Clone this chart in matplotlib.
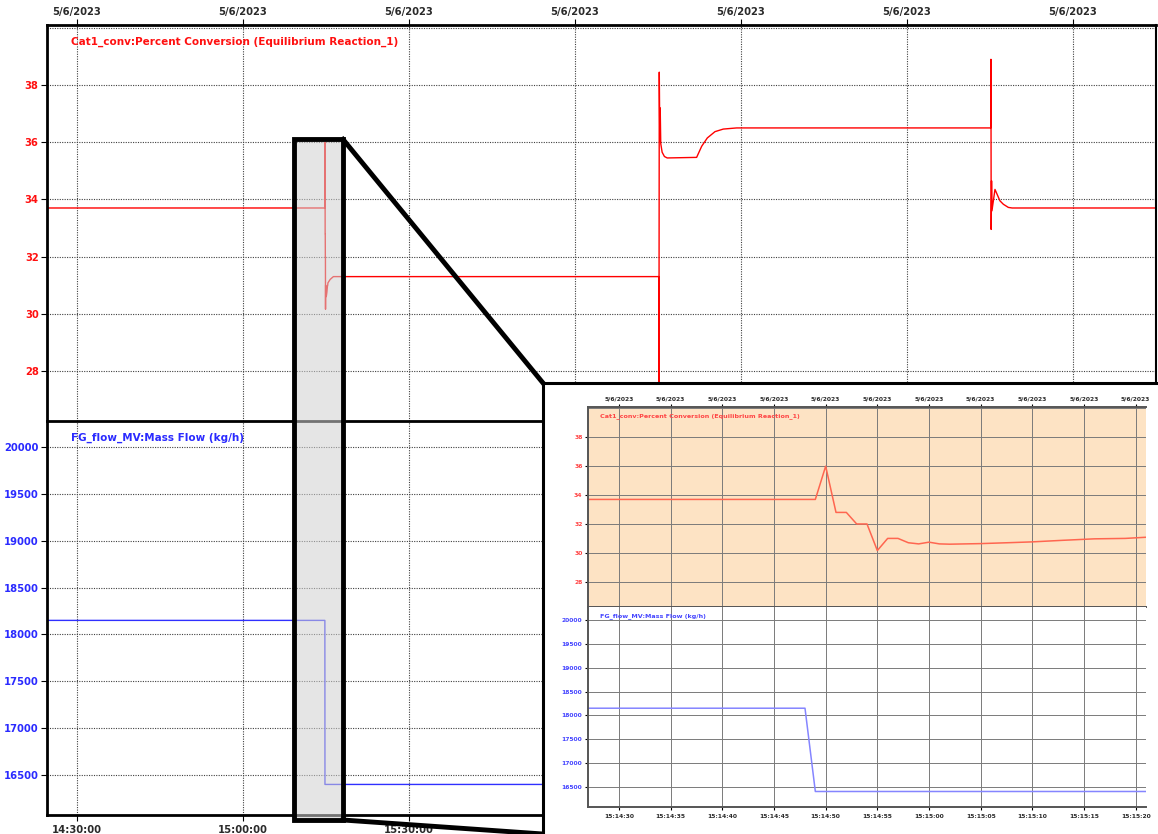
import matplotlib
matplotlib.use("Agg")
import matplotlib.pyplot as plt
import matplotlib.dates as mdates
import matplotlib.ticker as mticker
from matplotlib.patches import Rectangle
from matplotlib.lines import Line2D
import pandas as pd

DAY = "2023-05-06 "

# Cat1_conv:Percent Conversion trend (time, %)
conv_time = [
    "14:20:00", "15:14:49", "15:14:50", "15:14:51", "15:14:52", "15:14:53",
    "15:14:54", "15:14:55", "15:14:56", "15:14:57", "15:14:58", "15:14:59",
    "15:15:00", "15:15:01", "15:15:02", "15:15:05", "15:15:08", "15:15:10",
    "15:15:13", "15:15:16", "15:15:19", "15:15:21", "15:15:45", "15:16:20",
    "16:15:08", "16:15:10", "16:15:14", "16:15:20", "16:15:24", "16:15:30",
    "16:15:45", "16:16:10", "16:16:40", "16:21:59", "16:22:54", "16:23:55",
    "16:25:18", "16:26:48", "16:29:13", "17:15:08", "17:15:10", "17:15:13",
    "17:15:17", "17:15:21", "17:15:54", "17:16:48", "17:17:25", "17:18:19",
    "17:19:00", "17:50:00",
]
conv_value = [
    33.7, 33.7, 36.0, 32.8, 32.8, 32.0,
    32.0, 30.16, 31.0, 31.0, 30.7, 30.62,
    30.74, 30.62, 30.6, 30.64, 30.71, 30.76,
    30.87, 30.97, 31.0, 31.08, 31.2, 31.3,
    31.3, 26.4, 38.45, 36.0, 37.2, 35.95,
    35.65, 35.5, 35.45, 35.47, 35.86, 36.15,
    36.37, 36.46, 36.5, 36.5, 38.9, 32.95,
    34.65, 33.6, 34.35, 33.95, 33.83, 33.72,
    33.7, 33.7,
]

# FG_flow_MV:Mass Flow trend (time, kg/h)
flow_time = ["14:20:00", "15:14:48", "15:14:49", "17:50:00"]
flow_value = [18150, 18150, 16400, 16400]

conv_ticks = [28, 30, 32, 34, 36, 38]
conv_extra_grid = [40]
flow_ticks = [16500, 17000, 17500, 18000, 18500, 19000, 19500, 20000]
conv_lim = (26.25, 40.1)
flow_lim = (16074, 20277)

conv_title = "Cat1_conv:Percent Conversion (Equilibrium Reaction_1)"
flow_title = "FG_flow_MV:Mass Flow (kg/h)"

main_range = ("14:24:35", "17:45:00")
zoom_range = ("15:14:27", "15:15:21")
box_range = ("15:09:15", "15:18:05")

W, H = 1158, 834


def ts(times):
    return pd.to_datetime([DAY + t for t in times])


def rect(l, t, r, b):
    # pixel box -> figure fraction [left, bottom, width, height]
    return [l / W, 1 - b / H, (r - l) / W, (b - t) / H]


def fmt_date(x, pos):
    d = mdates.num2date(x)
    return f"{d.month}/{d.day}/{d.year}"


def draw_trend(ax_c, ax_f, xlim, locator, fs, lw, c_red, c_blue, lab_red,
               lab_blue, grid_kw, tick_len, bold, title_fs):
    weight = "bold" if bold else "normal"
    ax_c.plot(ts(conv_time), conv_value, color=c_red, lw=lw)
    ax_f.plot(ts(flow_time), flow_value, color=c_blue, lw=lw)
    for ax in (ax_c, ax_f):
        ax.set_xlim(ts(xlim))
        ax.xaxis.set_major_locator(locator)
        ax.grid(True, which="both", **grid_kw)
        ax.set_axisbelow(True)
        ax.tick_params(axis="y", length=tick_len, pad=2, labelsize=fs)
        ax.tick_params(which="minor", length=0)
    ax_c.set_ylim(conv_lim)
    ax_c.set_yticks(conv_ticks)
    ax_c.yaxis.set_minor_locator(mticker.FixedLocator(conv_extra_grid))
    ax_f.set_ylim(flow_lim)
    ax_f.set_yticks(flow_ticks)
    ax_c.xaxis.set_major_formatter(mticker.FuncFormatter(fmt_date))
    ax_f.xaxis.set_major_formatter(mdates.DateFormatter("%H:%M:%S"))
    ax_c.tick_params(axis="x", top=True, labeltop=True, bottom=False,
                     labelbottom=False, length=tick_len, pad=2,
                     labelsize=fs, labelcolor="#2a2a2a")
    ax_f.tick_params(axis="x", top=False, labeltop=False, bottom=True,
                     labelbottom=True, length=tick_len, pad=3,
                     labelsize=fs, labelcolor="#2a2a2a")
    ax_c.tick_params(axis="y", labelcolor=lab_red)
    ax_f.tick_params(axis="y", labelcolor=lab_blue)
    for ax in (ax_c, ax_f):
        for lab in ax.get_xticklabels() + ax.get_yticklabels():
            lab.set_fontweight(weight)
    ax_c.text(0.022, 0.957, conv_title, transform=ax_c.transAxes, color=lab_red,
              fontsize=title_fs, fontweight="bold", va="center")
    ax_f.text(0.022, 0.957, flow_title, transform=ax_f.transAxes, color=lab_blue,
              fontsize=title_fs, fontweight="bold", va="center")


fig = plt.figure(figsize=(W / 100, H / 100), dpi=100)

# main trend
ax_c = fig.add_axes(rect(47, 25, 1156, 421))
ax_f = fig.add_axes(rect(47, 421, 1156, 815))
ax_c.set_zorder(1)  # keep the panel separator on top of the lower panel
main_grid = dict(linestyle=(0, (1, 1.2)), color="#404040", lw=0.8)
draw_trend(ax_c, ax_f, main_range, mdates.MinuteLocator(byminute=[0, 30]),
           7.2, 1.0, "#ff0000", "#3030ff", "#ff1010", "#2a2aff",
           main_grid, 4, True, 7.5)
for name, sp in ax_c.spines.items():
    sp.set_linewidth(1.5 if name == "right" else 2)
ax_f.spines["top"].set_visible(False)
ax_f.spines["left"].set_linewidth(2)
ax_f.spines["bottom"].set_linewidth(2)

# zoom box on the main trend
to_fig = fig.transFigure.inverted()
bx0 = to_fig.transform(ax_c.transData.transform((mdates.date2num(ts([box_range[0]])[0]), 0)))[0]
bx1 = to_fig.transform(ax_c.transData.transform((mdates.date2num(ts([box_range[1]])[0]), 0)))[0]
by1 = to_fig.transform(ax_c.transData.transform((0, 36.1)))[1]
by0 = 1 - 820 / H
fig.add_artist(Rectangle((bx0, by0), bx1 - bx0, by1 - by0, transform=fig.transFigure,
                         facecolor=(0.82, 0.82, 0.82, 0.55), edgecolor="black",
                         lw=3.5, zorder=3))
inset_l, inset_t = 543 / W, 1 - 383 / H
fig.add_artist(Line2D([bx1, inset_l], [by1, inset_t], transform=fig.transFigure,
                      color="black", lw=3.5, zorder=3))
fig.add_artist(Line2D([bx1, inset_l], [by0, 0], transform=fig.transFigure,
                      color="black", lw=3.5, zorder=3))

# inset: zoomed screenshot of the same trend
ax_frame = fig.add_axes(rect(543, 383, 1160, 836))
ax_frame.set_zorder(5)
ax_frame.set_xticks([])
ax_frame.set_yticks([])
for sp in ax_frame.spines.values():
    sp.set_linewidth(2.2)
    sp.set_color("black")

ax_ic = fig.add_axes(rect(588, 407, 1146, 607))
ax_if = fig.add_axes(rect(588, 607, 1146, 807))
for ax in (ax_ic, ax_if):
    ax.set_zorder(6)
ax_ic.set_facecolor("#fde3c4")
inset_grid = dict(linestyle="-", color="#7a7a7a", lw=0.7)
draw_trend(ax_ic, ax_if, zoom_range, mdates.SecondLocator(bysecond=range(0, 60, 5)),
           4.3, 1.1, "#ff6650", "#8585ff", "#ff4545", "#4545ff",
           inset_grid, 2, True, 4.6)
for ax in (ax_ic, ax_if):
    for sp in ax.spines.values():
        sp.set_color("#555555")
        sp.set_linewidth(1.4)
ax_ic.spines["right"].set_visible(False)
ax_if.spines["right"].set_visible(False)
ax_if.spines["top"].set_visible(False)

fig.savefig("out.png", dpi=100)
